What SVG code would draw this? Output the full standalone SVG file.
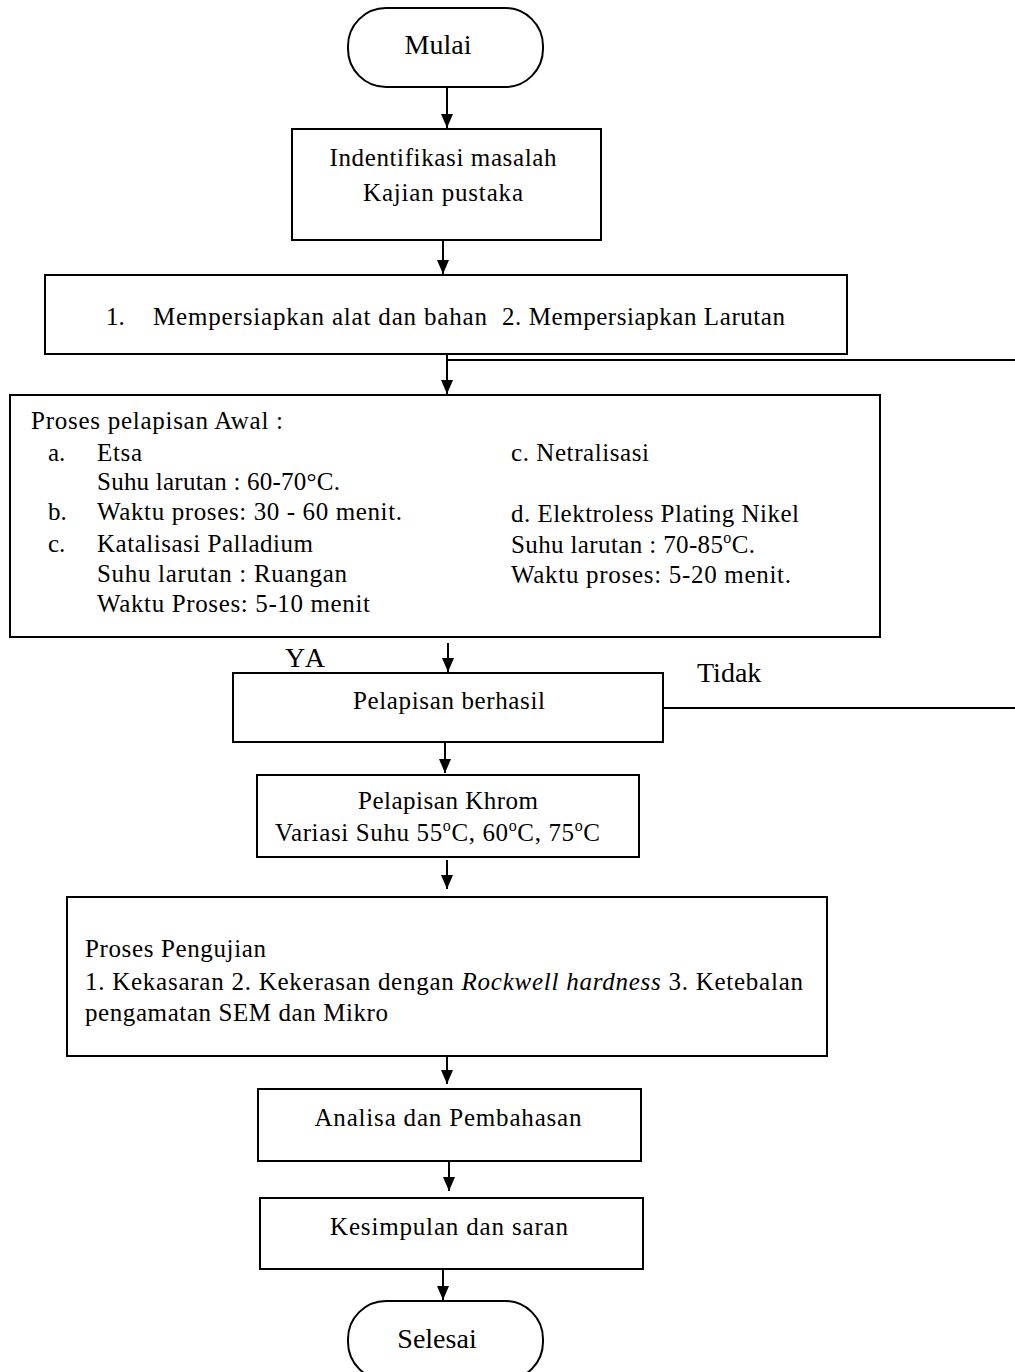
<svg xmlns="http://www.w3.org/2000/svg" width="1015" height="1372" viewBox="0 0 1015 1372">
<style>
  .box{fill:#fff;stroke:#000;stroke-width:2}
  .t{font-family:"Liberation Serif","Times New Roman",serif;font-size:25px;fill:#000}
  .big{font-family:"Liberation Serif","Times New Roman",serif;font-size:28px;fill:#000}
  .c{text-anchor:middle}
  .ln{stroke:#000;stroke-width:2;fill:none}
  .ar{stroke:#000;stroke-width:2;fill:none;marker-end:url(#ah)}
</style>
<defs>
  <marker id="ah" viewBox="0 0 14 12" refX="14" refY="6" markerWidth="14" markerHeight="12" markerUnits="userSpaceOnUse" orient="auto">
    <path d="M0,0 L14,6 L0,12 z" fill="#000"/>
  </marker>
</defs>
<rect width="1015" height="1372" fill="#fff"/>

<g id="connectors">
  <line class="ar" x1="447" y1="87" x2="447" y2="128"/>
  <line class="ar" x1="443" y1="240" x2="443" y2="274"/>
  <line class="ar" x1="447" y1="333" x2="447" y2="394"/>
  <line class="ln" x1="447" y1="360" x2="1015" y2="360"/>
  <line class="ar" x1="448" y1="643" x2="448" y2="672"/>
  <line class="ln" x1="663" y1="708" x2="1015" y2="708"/>
  <line class="ar" x1="445" y1="742" x2="445" y2="773"/>
  <line class="ar" x1="447" y1="860" x2="447" y2="889"/>
  <line class="ar" x1="447" y1="1053" x2="447" y2="1084"/>
  <line class="ar" x1="449" y1="1161" x2="449" y2="1191"/>
  <line class="ar" x1="443" y1="1269" x2="443" y2="1300"/>
</g>

<g id="mulai">
  <rect class="box" x="348" y="8" width="195" height="79" rx="38" ry="38"/>
  <text class="big c" x="438" y="54">Mulai</text>
</g>

<g id="identifikasi">
  <rect class="box" x="292" y="129" width="309" height="111"/>
  <text class="t c" x="443" y="166" textLength="227" lengthAdjust="spacing">Indentifikasi masalah</text>
  <text class="t c" x="443" y="201" textLength="160" lengthAdjust="spacing">Kajian pustaka</text>
</g>

<g id="persiapan">
  <rect class="box" x="45" y="275" width="802" height="79"/>
  <text class="t" x="106" y="325">1.</text>
  <text class="t" x="153" y="325" textLength="334" lengthAdjust="spacing">Mempersiapkan alat dan bahan</text>
  <text class="t" x="502" y="325" textLength="283" lengthAdjust="spacing">2. Mempersiapkan Larutan</text>
</g>

<g id="pelapisan-awal">
  <rect class="box" x="10" y="395" width="870" height="242"/>
  <text class="t" x="31" y="429" textLength="252" lengthAdjust="spacing">Proses pelapisan Awal :</text>
  <text class="t" x="48" y="461">a.</text>
  <text class="t" x="97" y="461" textLength="45" lengthAdjust="spacing">Etsa</text>
  <text class="t" x="97" y="490" textLength="243" lengthAdjust="spacing">Suhu larutan : 60-70°C.</text>
  <text class="t" x="48" y="520">b.</text>
  <text class="t" x="97" y="520" textLength="305" lengthAdjust="spacing">Waktu proses: 30 - 60 menit.</text>
  <text class="t" x="48" y="552">c.</text>
  <text class="t" x="97" y="552" textLength="216" lengthAdjust="spacing">Katalisasi Palladium</text>
  <text class="t" x="97" y="582" textLength="250" lengthAdjust="spacing">Suhu larutan : Ruangan</text>
  <text class="t" x="97" y="612" textLength="273" lengthAdjust="spacing">Waktu Proses: 5-10 menit</text>
  <text class="t" x="511" y="461" textLength="138" lengthAdjust="spacing">c. Netralisasi</text>
  <text class="t" x="511" y="522" textLength="288" lengthAdjust="spacing">d. Elektroless Plating Nikel</text>
  <text class="t" x="511" y="553" textLength="244" lengthAdjust="spacing">Suhu larutan : 70-85<tspan font-size="16" dy="-10">o</tspan><tspan dy="10">C.</tspan></text>
  <text class="t" x="511" y="583" textLength="280" lengthAdjust="spacing">Waktu proses: 5-20 menit.</text>
</g>

<text class="big" x="285" y="667" textLength="40" lengthAdjust="spacing">YA</text>
<text class="big" x="697" y="682">Tidak</text>

<g id="berhasil">
  <rect class="box" x="233" y="673" width="430" height="69"/>
  <text class="t c" x="449" y="709" textLength="192" lengthAdjust="spacing">Pelapisan berhasil</text>
</g>

<g id="khrom">
  <rect class="box" x="257" y="775" width="382" height="82"/>
  <text class="t c" x="448" y="809" textLength="180" lengthAdjust="spacing">Pelapisan Khrom</text>
  <text class="t" x="275" y="841" textLength="325" lengthAdjust="spacing">Variasi Suhu 55<tspan font-size="16" dy="-10">o</tspan><tspan dy="10">C, 60</tspan><tspan font-size="16" dy="-10">o</tspan><tspan dy="10">C, 75</tspan><tspan font-size="16" dy="-10">o</tspan><tspan dy="10">C</tspan></text>
</g>

<g id="pengujian">
  <rect class="box" x="67" y="897" width="760" height="159"/>
  <text class="t" x="85" y="957" textLength="181" lengthAdjust="spacing">Proses Pengujian</text>
  <text class="t" x="85" y="990" textLength="718" lengthAdjust="spacing">1. Kekasaran 2. Kekerasan dengan <tspan font-style="italic">Rockwell hardness</tspan> 3. Ketebalan</text>
  <text class="t" x="85" y="1021" textLength="303" lengthAdjust="spacing">pengamatan SEM  dan Mikro</text>
</g>

<g id="analisa">
  <rect class="box" x="258" y="1089" width="383" height="72"/>
  <text class="t c" x="448" y="1126" textLength="267" lengthAdjust="spacing">Analisa dan Pembahasan</text>
</g>

<g id="kesimpulan">
  <rect class="box" x="260" y="1198" width="383" height="71"/>
  <text class="t c" x="449" y="1235" textLength="238" lengthAdjust="spacing">Kesimpulan dan saran</text>
</g>

<g id="selesai">
  <rect class="box" x="348" y="1301" width="195" height="79" rx="38" ry="38"/>
  <text class="big c" x="437" y="1348">Selesai</text>
</g>
</svg>
